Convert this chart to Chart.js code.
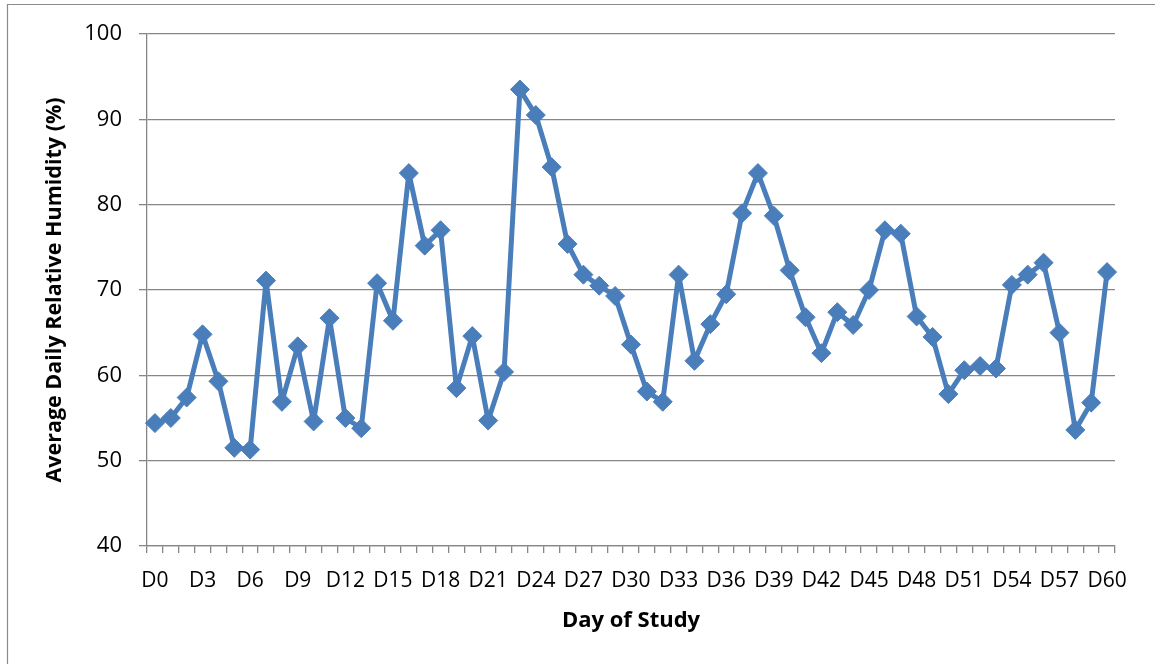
<!DOCTYPE html>
<html>
<head>
<meta charset="utf-8">
<script src="https://cdn.jsdelivr.net/npm/chart.js@4"></script>
<style>
html,body{margin:0;padding:0;background:#fff;overflow:hidden;}
#wrap{position:absolute;left:0;top:0;width:1155px;height:664px;}
</style>
</head>
<body>
<div id="wrap"><canvas id="c" width="1155" height="664"></canvas></div>
<script>
// Categories: day of study
const days = ["D0","D1","D2","D3","D4","D5","D6","D7","D8","D9","D10","D11","D12","D13","D14","D15","D16","D17","D18","D19","D20","D21","D22","D23","D24","D25","D26","D27","D28","D29","D30","D31","D32","D33","D34","D35","D36","D37","D38","D39","D40","D41","D42","D43","D44","D45","D46","D47","D48","D49","D50","D51","D52","D53","D54","D55","D56","D57","D58","D59","D60"];
// Average daily relative humidity (%)
const humidity = [54.4,55.0,57.4,64.8,59.3,51.5,51.3,71.1,56.9,63.4,54.6,66.7,55.0,53.8,70.8,66.4,83.7,75.2,77.0,58.5,64.6,54.7,60.4,93.5,90.5,84.4,75.4,71.8,70.5,69.3,63.6,58.1,56.9,71.8,61.7,66.0,69.5,79.0,83.7,78.7,72.3,66.8,62.6,67.4,65.9,70.0,77.0,76.6,66.9,64.5,57.8,60.6,61.1,60.8,70.6,71.8,73.2,65.0,53.6,56.8,72.1];
const yMin = 40, yMax = 100, yStep = 10;
const labelEvery = 3;
const xTitle = "Day of Study";
const yTitle = "Average Daily Relative Humidity (%)";

const gridColor = '#868686';
const lineColor = '#4A7EBB';

const frame = {
  id: 'frame',
  beforeDraw(chart) {
    const ctx = chart.ctx;
    ctx.save();
    ctx.strokeStyle = '#8a8a8a';
    ctx.lineWidth = 1.2;
    ctx.beginPath();
    ctx.moveTo(7.5, 700);
    ctx.lineTo(7.5, 4.5);
    ctx.lineTo(1200, 4.5);
    ctx.stroke();
    ctx.restore();
  }
};

new Chart(document.getElementById('c'), {
  type: 'line',
  data: {
    labels: days,
    datasets: [{
      data: humidity,
      borderColor: lineColor,
      backgroundColor: lineColor,
      borderWidth: 5,
      borderJoinStyle: 'round',
      borderCapStyle: 'round',
      tension: 0,
      pointStyle: 'rectRot',
      pointRadius: 9.5,
      pointBorderWidth: 1,
      pointBackgroundColor: lineColor,
      pointBorderColor: lineColor,
      fill: false
    }]
  },
  options: {
    responsive: false,
    animation: false,
    devicePixelRatio: 1,
    layout: { padding: { left: 0, top: 34, right: 40, bottom: 0 } },
    plugins: { legend: { display: false }, tooltip: { enabled: false } },
    scales: {
      x: {
        type: 'category',
        offset: true,
        grid: { display: true, offset: true, drawOnChartArea: false, drawTicks: true, tickLength: 7, color: gridColor, lineWidth: 1.3 },
        border: { display: true, color: gridColor, width: 1.3 },
        ticks: {
          autoSkip: false, maxRotation: 0, minRotation: 0, padding: 15,
          color: '#000',
          font: { family: "'Open Sans', sans-serif", size: 21 },
          callback: function(v, i) { return i % labelEvery === 0 ? days[i] : ''; }
        },
        title: { display: true, text: xTitle, color: '#000', font: { family: "'Open Sans', sans-serif", size: 22, weight: 'bold' }, padding: { top: 0, bottom: 30 } },
        afterFit(scale) { scale.height = 118; }
      },
      y: {
        min: yMin, max: yMax,
        grid: { color: gridColor, lineWidth: 1.3, tickLength: 8 },
        border: { display: true, color: gridColor, width: 1.3 },
        ticks: {
          stepSize: yStep, padding: 17, color: '#000',
          font: { family: "'Open Sans', sans-serif", size: 22 }
        },
        title: { display: true, text: yTitle, color: '#000', font: { family: "'Open Sans', sans-serif", size: 21.5, weight: 'bold' }, padding: { top: 42, bottom: 0 } },
        afterFit(scale) { scale.width = 147; }
      }
    }
  },
  plugins: [frame]
});
</script>
</body>
</html>
